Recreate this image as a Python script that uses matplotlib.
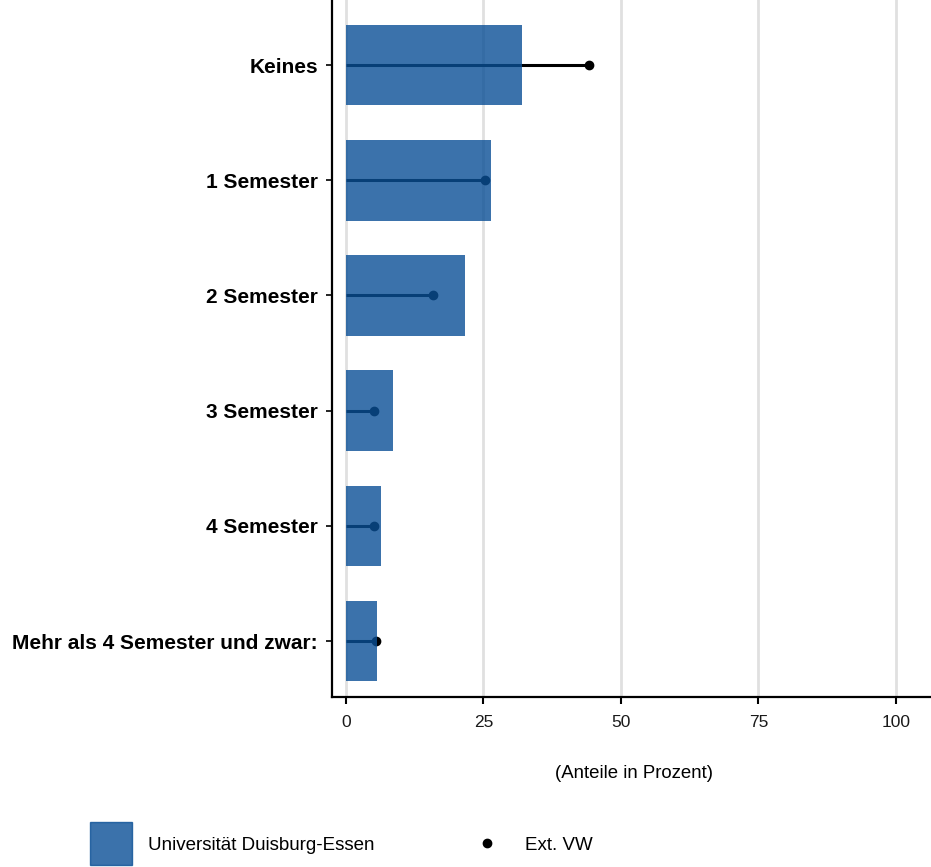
import matplotlib
matplotlib.use("Agg")
import matplotlib.pyplot as plt
from matplotlib.patches import Rectangle
from matplotlib.lines import Line2D

plt.rcParams['font.family'] = ['Liberation Sans', 'DejaVu Sans']

categories = ["Keines", "1 Semester", "2 Semester", "3 Semester", "4 Semester",
              "Mehr als 4 Semester und zwar:"]
uni_values = [32.0, 26.4, 21.6, 8.5, 6.4, 5.6]
ext_values = [44.2, 25.3, 15.8, 5.1, 5.1, 5.5]
xticks = [0, 25, 50, 75, 100]
xlabel = "(Anteile in Prozent)"
legend_labels = ["Universität Duisburg-Essen", "Ext. VW"]

W, H = 931, 867
fig = plt.figure(figsize=(W / 100, H / 100), dpi=100)
ax = fig.add_axes([332 / W, 1 - 697 / H, (W - 332) / W, 697 / H])

n = len(categories)
ypos = [n - 1 - i for i in range(n)]

for y, e in zip(ypos, ext_values):
    ax.plot([0, e], [y, y], color='black', lw=2.2, zorder=2, solid_capstyle='butt')
    ax.plot([e], [y], 'o', color='black', ms=6, zorder=2)
ax.barh(ypos, uni_values, height=0.7, color='#0a4f96', alpha=0.8, zorder=3, linewidth=0)

ax.set_xlim(-2.55, 106.4)
ax.set_ylim(-0.486, n - 1 + 0.565)
ax.set_xticks(xticks)
ax.set_xticklabels([str(t) for t in xticks], fontsize=12.5, color='#1a1a1a')
ax.set_yticks(ypos)
ax.set_yticklabels(categories, fontsize=15, fontweight='bold', color='black')
ax.tick_params(axis='x', length=5, width=1.5, pad=8)
ax.tick_params(axis='y', length=4, width=1.2, pad=6)
for v in xticks:
    ax.axvline(v, color='#e0e0e0', lw=2, zorder=0)
for s in ['top', 'right']:
    ax.spines[s].set_visible(False)
for s in ['left', 'bottom']:
    ax.spines[s].set_linewidth(1.6)
    ax.spines[s].set_color('black')

fig.text(634 / W, 1 - 773 / H, xlabel, ha='center', va='center', fontsize=13.4)

# legend
fig.patches.append(Rectangle((90 / W, 1 - 865 / H), 42 / W, 43 / H,
                             transform=fig.transFigure, color='#0a4f96', alpha=0.8))
fig.text(148 / W, 1 - 845 / H, legend_labels[0], ha='left', va='center', fontsize=13.5)
fig.lines.append(Line2D([487 / W], [1 - 843 / H], marker='o', color='black', ms=6,
                        transform=fig.transFigure))
fig.text(525 / W, 1 - 845 / H, legend_labels[1], ha='left', va='center', fontsize=13.5)

fig.savefig("out.png", dpi=100)
